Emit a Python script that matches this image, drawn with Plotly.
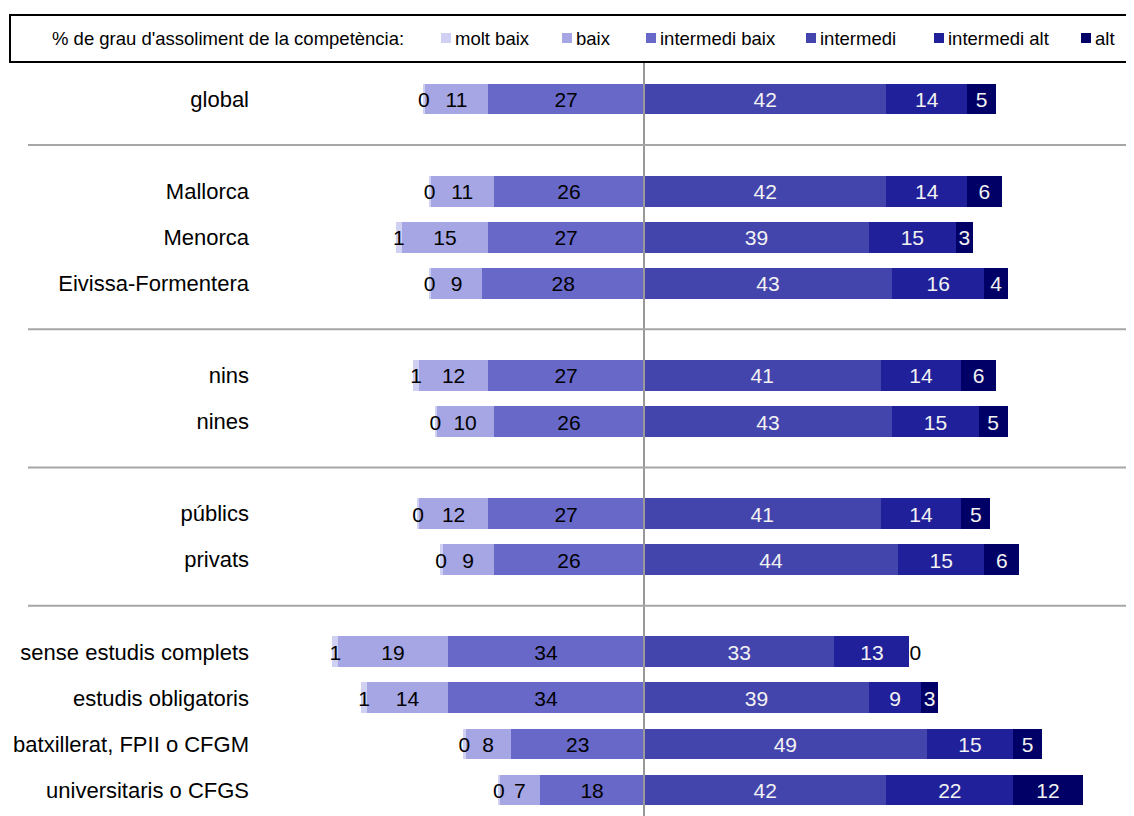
import plotly.graph_objects as go

# ---- data ----
categories = ["global", "Mallorca", "Menorca", "Eivissa-Formentera", "nins", "nines",
              "públics", "privats", "sense estudis complets", "estudis obligatoris",
              "batxillerat, FPII o CFGM", "universitaris o CFGS"]
group_sizes = [1, 3, 2, 2, 4]
series_names = ["molt baix", "baix", "intermedi baix", "intermedi", "intermedi alt", "alt"]
molt_baix = [0.3, 0.3, 1, 0.3, 1, 0.3, 0.3, 0.3, 1, 1, 0.3, 0.3]
baix = [11, 11, 15, 9, 12, 10, 12, 9, 19, 14, 8, 7]
intermedi_baix = [27, 26, 27, 28, 27, 26, 27, 26, 34, 34, 23, 18]
intermedi = [42, 42, 39, 43, 41, 43, 41, 44, 33, 39, 49, 42]
intermedi_alt = [14, 14, 15, 16, 14, 15, 14, 15, 13, 9, 15, 22]
alt = [5, 6, 3, 4, 6, 5, 5, 6, 0, 3, 5, 12]
legend_title = "% de grau d'assoliment de la competència:"

colors = ["#d0d0f2", "#a6a6e4", "#6868c8", "#4444ad", "#20209a", "#000066"]
FONT = "Liberation Sans, Arial, sans-serif"
W, H = 1126, 808   # page body margin (8px) taken into account

# row positions with blank rows between groups
rows, gaps = [], []
r = 0
for gi, n in enumerate(group_sizes):
    for _ in range(n):
        rows.append(r)
        r += 1
    if gi < len(group_sizes) - 1:
        gaps.append(r)
        r += 1

fig = go.Figure()
bw = 0.67
neg = [("intermedi baix", intermedi_baix, colors[2]),
       ("baix", baix, colors[1]),
       ("molt baix", molt_baix, colors[0])]
pos = [("intermedi", intermedi, colors[3]),
       ("intermedi alt", intermedi_alt, colors[4]),
       ("alt", alt, colors[5])]
for name, vals, col in neg:
    fig.add_trace(go.Bar(y=rows, x=[-v for v in vals], orientation="h", name=name,
                         marker=dict(color=col, line=dict(width=0)), width=bw,
                         showlegend=False))
for name, vals, col in pos:
    fig.add_trace(go.Bar(y=rows, x=vals, orientation="h", name=name,
                         marker=dict(color=col, line=dict(width=0)), width=bw,
                         showlegend=False))

text_rows = [rw + 0.06 for rw in rows]  # slight baseline nudge

def add_labels(xs, vals, colors_, positions):
    fig.add_trace(go.Scatter(x=xs, y=text_rows, mode="text",
                             text=[str(int(round(v))) for v in vals],
                             textposition=positions,
                             textfont=dict(family=FONT, size=21, color=colors_),
                             showlegend=False, hoverinfo="skip", cliponaxis=False))

add_labels([-(ib / 2) for ib in intermedi_baix], intermedi_baix, "#000000", "middle center")
add_labels([-(ib + b / 2) for ib, b in zip(intermedi_baix, baix)], baix, "#000000", "middle center")
add_labels([-(ib + b + m / 2) for ib, b, m in zip(intermedi_baix, baix, molt_baix)],
           molt_baix, "#000000", "middle center")
add_labels([i / 2 for i in intermedi], intermedi, "#f2f2f2", "middle center")
add_labels([i + ia / 2 for i, ia in zip(intermedi, intermedi_alt)], intermedi_alt, "#f2f2f2", "middle center")
add_labels([i + ia + a / 2 for i, ia, a in zip(intermedi, intermedi_alt, alt)], alt,
           ["#000000" if a == 0 else "#f2f2f2" for a in alt],
           ["middle right" if a == 0 else "middle center" for a in alt])

# geometry (figure pixel coordinates)
x_left_px, center_px, unit_px = 242, 636, 5.77
top_px, row0_px, row_step = 54, 91, 46.07
xr = [-(center_px - x_left_px) / unit_px, (W - center_px) / unit_px]
yr = [(H - row0_px) / row_step, -(row0_px - top_px) / row_step]

shapes = []
shapes.append(dict(type="line", xref="x", yref="paper", x0=0, x1=0, y0=0,
                   y1=1 - top_px / H, line=dict(color="#999999", width=2), layer="above"))
for g in gaps:
    shapes.append(dict(type="line", xref="paper", yref="y", x0=20 / W, x1=1, y0=g, y1=g,
                       line=dict(color="#a6a6a6", width=2)))
shapes.append(dict(type="rect", xref="paper", yref="paper", x0=2 / W, x1=1.01,
                   y0=1 - 54 / H, y1=1 - 7 / H, line=dict(color="#000000", width=2)))

annotations = [dict(text=legend_title, xref="paper", yref="paper", x=42 / W, y=1 - 30 / H,
                    xanchor="left", yanchor="middle", showarrow=False,
                    font=dict(family=FONT, size=18.5, color="#000000"))]
leg_x = [433, 554, 638, 798, 926, 1073]
for nm, col, lx in zip(series_names, colors, leg_x):
    shapes.append(dict(type="rect", xref="paper", yref="paper", x0=lx / W, x1=(lx + 10) / W,
                       y0=1 - 35 / H, y1=1 - 25 / H, fillcolor=col, line=dict(width=0)))
    annotations.append(dict(text=nm, xref="paper", yref="paper", x=(lx + 12) / W, y=1 - 30 / H,
                            xanchor="left", yanchor="middle", showarrow=False,
                            font=dict(family=FONT, size=18.5, color="#000000")))

fig.update_layout(
    width=W, height=H, barmode="relative", bargap=0,
    margin=dict(l=0, r=0, t=0, b=0),
    paper_bgcolor="white", plot_bgcolor="white",
    xaxis=dict(domain=[x_left_px / W, 1], range=xr, visible=False, fixedrange=True),
    yaxis=dict(domain=[0, 1 - top_px / H], range=yr, tickvals=rows, ticktext=categories,
               showgrid=False, zeroline=False, showline=False, ticks="",
               tickfont=dict(family=FONT, size=22, color="#000000"), fixedrange=True),
    shapes=shapes, annotations=annotations,
)
fig.write_html("out.html")
